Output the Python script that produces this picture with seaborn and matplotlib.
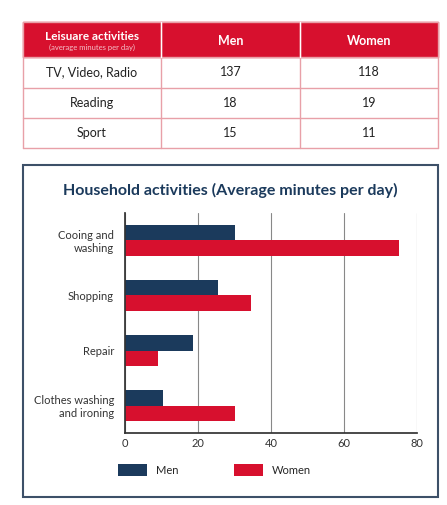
import pandas as pd
import matplotlib.pyplot as plt
import seaborn as sns
from matplotlib.patches import Rectangle

# table data
leisure_rows = ["TV, Video, Radio", "Reading", "Sport"]
leisure_men = [137, 18, 15]
leisure_women = [118, 19, 11]

# bar chart data
activities = ["Cooing and\nwashing", "Shopping", "Repair", "Clothes washing\nand ironing"]
men_minutes = [30, 25.5, 18.5, 10.5]
women_minutes = [75, 34.5, 9, 30]

RED = "#d7102e"
NAVY = "#1b3a5c"

sns.set_theme(style="white")
plt.rcParams['font.family'] = ['Lato', 'DejaVu Sans']

W, H = 447, 505
fig = plt.figure(figsize=(W / 100, H / 100), dpi=100)

# ---- table drawn in an overlay axes using pixel coords ----
tab = fig.add_axes([0, 0, 1, 1])
tab.set_xlim(0, W)
tab.set_ylim(H, 0)
tab.axis("off")

cols = [23, 161, 300, 438]
rows = [22, 57, 88, 118, 148]
tab.add_patch(Rectangle((cols[0], rows[0]), cols[3] - cols[0], rows[1] - rows[0], color=RED, zorder=1))
for x in cols:
    tab.plot([x, x], [rows[0], rows[-1]], color="#e8a0a8", lw=1, zorder=2)
for y in rows:
    tab.plot([cols[0], cols[3]], [y, y], color="#e8a0a8", lw=1, zorder=2)
tab.plot([cols[1], cols[1]], [rows[0], rows[1]], color="white", lw=1, zorder=3)
tab.plot([cols[2], cols[2]], [rows[0], rows[1]], color="white", lw=1, zorder=3)

xc = [(cols[i] + cols[i + 1]) / 2 for i in range(3)]
tab.text(xc[0], 36, "Leisuare activities", color="white", fontsize=8.5, fontweight="bold", ha="center", va="center")
tab.text(xc[0], 47, "(average minutes per day)", color="#f4c0c8", fontsize=5.5, ha="center", va="center")
tab.text(xc[1], 41, "Men", color="white", fontsize=9, fontweight="bold", ha="center", va="center")
tab.text(xc[2], 41, "Women", color="white", fontsize=9, fontweight="bold", ha="center", va="center")
for i, name in enumerate(leisure_rows):
    yc = (rows[i + 1] + rows[i + 2]) / 2
    tab.text(xc[0], yc, name, fontsize=9, ha="center", va="center", color="#222222")
    tab.text(xc[1], yc, str(leisure_men[i]), fontsize=9, ha="center", va="center", color="#222222")
    tab.text(xc[2], yc, str(leisure_women[i]), fontsize=9, ha="center", va="center", color="#222222")

# chart border and title
tab.add_patch(Rectangle((23, 165), 415, 332, fill=False, ec="#3d5068", lw=1.5))
tab.text(230, 190, "Household activities (Average minutes per day)", fontsize=11.5,
         fontweight="bold", color=NAVY, ha="center", va="center")

# ---- bar chart ----
df = pd.DataFrame({
    "activity": activities * 2,
    "minutes": men_minutes + women_minutes,
    "sex": ["Men"] * 4 + ["Women"] * 4,
})
ax = fig.add_axes([125 / W, 1 - 433 / H, 292 / W, 220 / H])
sns.barplot(data=df, y="activity", x="minutes", hue="sex", orient="h",
            palette={"Men": NAVY, "Women": RED}, width=0.55, saturation=1,
            ax=ax, edgecolor="none")
ax.set_xlim(0, 80)
ax.set_xticks([0, 20, 40, 60, 80])
ax.xaxis.grid(True, color="#888888", lw=0.8)
ax.set_axisbelow(True)
for s in ["top", "right"]:
    ax.spines[s].set_visible(False)
ax.spines["left"].set_color("#333333")
ax.spines["bottom"].set_color("#333333")
ax.set_xlabel("")
ax.set_ylabel("")
ax.tick_params(axis="both", length=0, labelsize=8, colors="#333333")
ax.tick_params(axis="y", pad=8)
ax.patch.set_alpha(0)
handles, labels = ax.get_legend_handles_labels()
ax.legend_.remove()
fig.legend(handles, labels, loc="center", bbox_to_anchor=(0.48, 1 - 470 / H), ncol=2,
           frameon=False, fontsize=8, handlelength=2.6, handleheight=1.4, columnspacing=5)

fig.savefig("out.png", dpi=100, facecolor="white")
